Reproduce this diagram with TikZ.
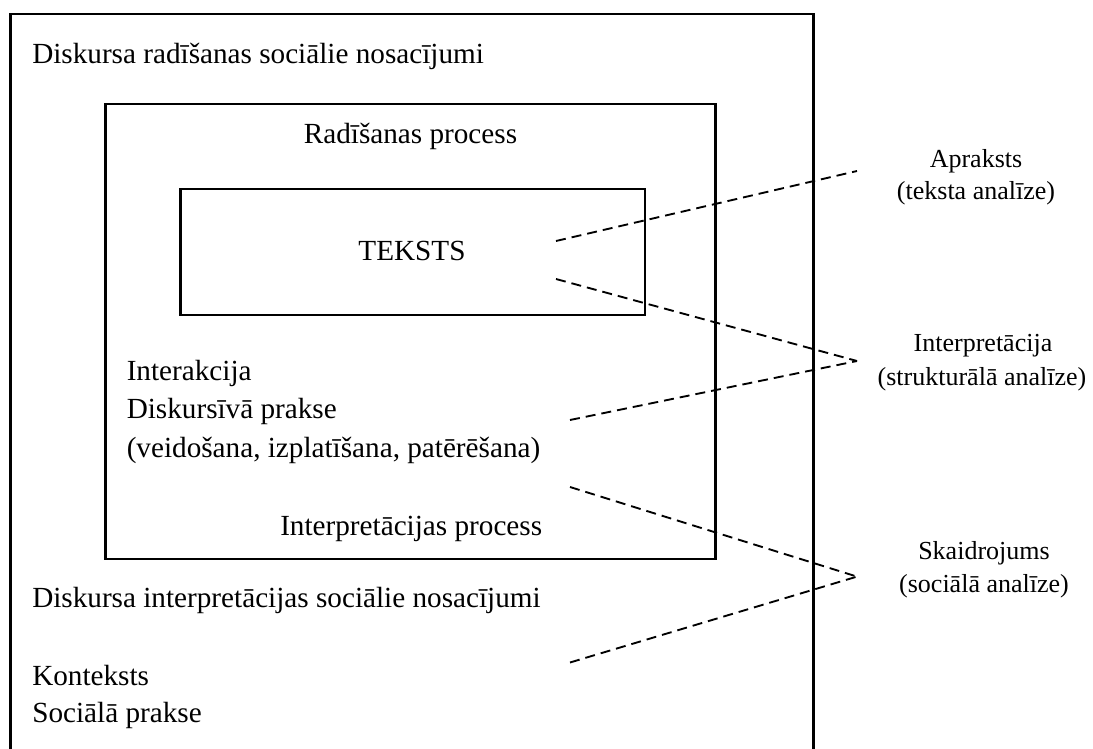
\documentclass[tikz,border=0pt]{standalone}
\usepackage{fontspec}
\setmainfont{Liberation Serif}
\begin{document}
\begin{tikzpicture}[x=0.75pt,y=-0.75pt,
  frame/.style={line width=2pt},
  link/.style={line width=1.4pt,dash pattern=on 7.5pt off 4.5pt},
  lbl/.style={inner sep=0pt,font=\fontsize{21.9pt}{28.9pt}\selectfont},
  side/.style={inner sep=0pt,anchor=base,font=\fontsize{19.5pt}{25pt}\selectfont},
  lefttext/.style={lbl,anchor=base west},
  midtext/.style={lbl,anchor=base}]
\useasboundingbox (0,0) rectangle (1093,749);

% nested frames: social conditions / processes / text
\draw[frame] (10.5,760) -- (10.5,14) -- (813.6,14) -- (813.6,760);
\draw[frame] (105.5,104) rectangle (715.7,559);
\draw[frame] (180.5,189) rectangle (645,315);

% labels inside the frames
\node[lefttext] (cond1) at (32,63.6) {Diskursa radīšanas sociālie nosacījumi};
\node[midtext]  (prod)  at (410.5,143.5) {Radīšanas process};
\node[midtext]  (text)  at (412,260) {TEKSTS};
\node[lefttext] (inter) at (126.5,380) {Interakcija};
\node[lefttext] (disc)  at (126.5,418.6) {Diskursīvā prakse};
\node[lefttext] (acts)  at (126.5,457) {(veidošana, izplatīšana, patērēšana)};
\node[lefttext] (interp) at (280,535) {Interpretācijas process};
\node[lefttext] (cond2) at (32,607.6) {Diskursa interpretācijas sociālie nosacījumi};
\node[lefttext] (ctx)   at (32,685) {Konteksts};
\node[lefttext] (soc)   at (32,722.5) {Sociālā prakse};

% analysis levels on the right
\node[side] (desc)  at (976,167.5) {Apraksts};
\node[side] (descb) at (976,199) {(teksta analīze)};
\node[side] (intl)  at (983,351.7) {Interpretācija};
\node[side] (intlb) at (982,385) {(strukturālā analīze)};
\node[side] (expl)  at (984,559) {Skaidrojums};
\node[side] (explb) at (984,592) {(sociālā analīze)};

% dashed guide lines
\coordinate (t1) at (556,241);
\coordinate (t2) at (556,279);
\coordinate (d1) at (570,420);
\coordinate (d2) at (570,487);
\coordinate (s1) at (570,662.5);
\coordinate (pA) at (857,171);
\coordinate (pI) at (857,361);
\coordinate (pS) at (857,576.6);

\draw[link] (t1) -- (pA);
\draw[link] (t2) -- (pI);
\draw[link] (d1) -- (pI);
\draw[link] (d2) -- (pS);
\draw[link] (s1) -- (pS);
\end{tikzpicture}
\end{document}
